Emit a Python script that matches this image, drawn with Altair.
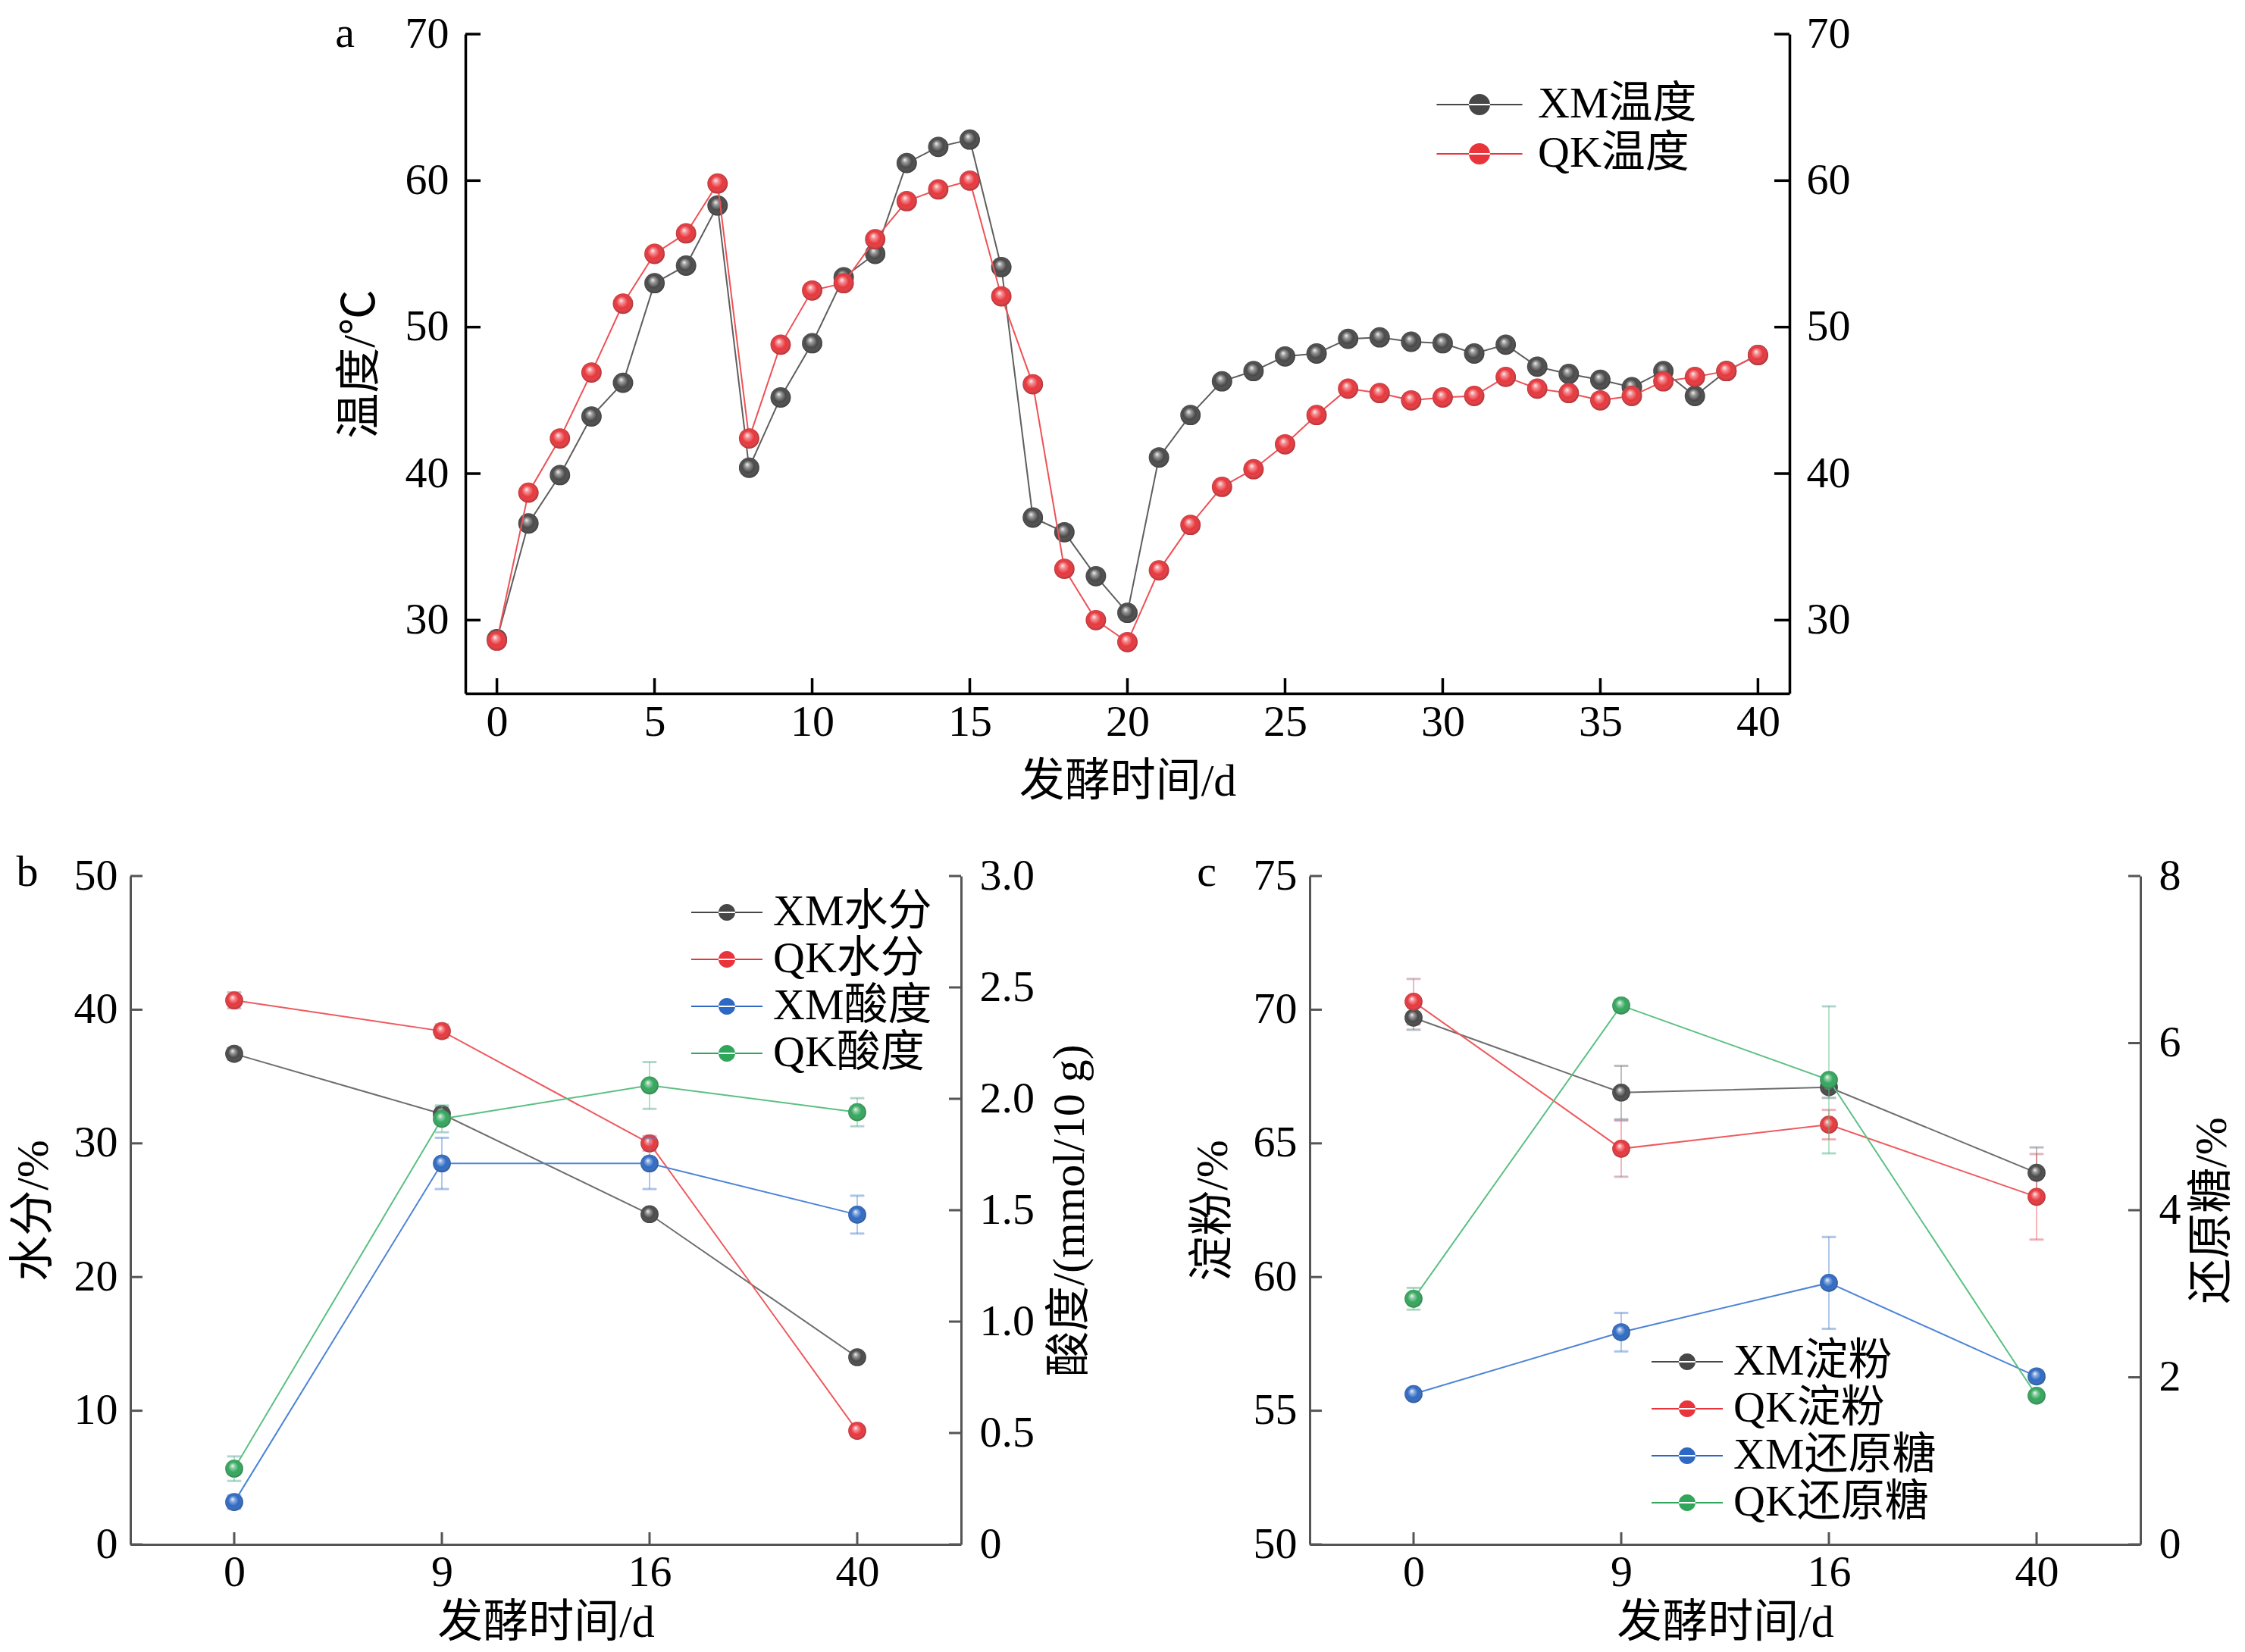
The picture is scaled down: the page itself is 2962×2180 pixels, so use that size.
import altair as alt
import pandas as pd

SERIF = "Liberation Serif, Noto Sans CJK SC, serif"

# ---------------- panel a data ----------------
days_a = list(range(41))
xm_temp = [28.7, 36.6, 39.9, 43.9, 46.2, 53.0, 54.2, 58.3, 40.4, 45.2, 48.9, 53.4, 55.0, 61.2, 62.3, 62.8,
           54.1, 37.0, 36.0, 33.0, 30.5, 41.1, 44.0, 46.3, 47.0, 48.0, 48.2, 49.2, 49.3, 49.0, 48.9, 48.2,
           48.8, 47.3, 46.8, 46.4, 45.9, 47.0, 45.3, 47.0, 48.1]
qk_temp = [28.6, 38.7, 42.4, 46.9, 51.6, 55.0, 56.4, 59.8, 42.4, 48.8, 52.5, 53.0, 56.0, 58.6, 59.4, 60.0,
           52.1, 46.1, 33.5, 30.0, 28.5, 33.4, 36.5, 39.1, 40.3, 42.0, 44.0, 45.8, 45.5, 45.0, 45.2, 45.3,
           46.6, 45.8, 45.5, 45.0, 45.3, 46.3, 46.6, 47.0, 48.1]
a_series = ["XM温度", "QK温度"]
a_point_colors = ["#474747", "#e8343a"]
a_line_colors = ["#5e5e5e", "#ee5156"]
a_xticks = [0, 5, 10, 15, 20, 25, 30, 35, 40]
a_yticks = [30, 40, 50, 60, 70]

# ---------------- panel b data ----------------
bc_days = [0, 9, 16, 40]
xm_water = [36.7, 32.2, 24.7, 14.0]
xm_water_err = [0.45, 0.5, 0.4, 0.35]
qk_water = [40.7, 38.4, 30.0, 8.5]
qk_water_err = [0.6, 0.5, 0.55, 0.4]
xm_acid = [0.19, 1.71, 1.71, 1.48]
xm_acid_err = [0.03, 0.115, 0.115, 0.085]
qk_acid = [0.34, 1.91, 2.06, 1.94]
qk_acid_err = [0.055, 0.06, 0.105, 0.063]
b_series = ["XM水分", "QK水分", "XM酸度", "QK酸度"]
b_left_ticks = [0, 10, 20, 30, 40, 50]
b_right_ticks = [0, 0.5, 1.0, 1.5, 2.0, 2.5, 3.0]

# ---------------- panel c data ----------------
xm_starch = [69.7, 66.9, 67.1, 63.9]
xm_starch_err = [0.45, 1.0, 0.4, 0.95]
qk_starch = [70.3, 64.8, 65.7, 63.0]
qk_starch_err = [0.85, 1.05, 0.55, 1.6]
xm_sugar = [1.80, 2.54, 3.13, 2.01]
xm_sugar_err = [0.05, 0.23, 0.55, 0.07]
qk_sugar = [2.94, 6.45, 5.56, 1.78]
qk_sugar_err = [0.13, 0.07, 0.88, 0.05]
c_series = ["XM淀粉", "QK淀粉", "XM还原糖", "QK还原糖"]
c_left_ticks = [50, 55, 60, 65, 70, 75]
c_right_ticks = [0, 2, 4, 6, 8]

bc_point_colors = ["#474747", "#e8343a", "#2c68c4", "#30a65a"]
bc_line_colors = ["#6e6e6e", "#ee5a5f", "#4d84d6", "#5cc083"]

GLOSS = {
    "gradient": "radial", "x1": 0.4, "y1": 0.33, "r1": 0.0, "x2": 0.5, "y2": 0.5, "r2": 0.55,
    "stops": [
        {"offset": 0.0, "color": "rgba(255,255,255,0.95)"},
        {"offset": 0.22, "color": "rgba(255,255,255,0.45)"},
        {"offset": 0.55, "color": "rgba(255,255,255,0.0)"},
        {"offset": 1.0, "color": "rgba(0,0,0,0.35)"},
    ],
}

PATH_A = "M-4.04,-0.08H4.04V0.08H-4.04Z M-1,0A1,1,0,1,0,1,0A1,1,0,1,0,-1,0Z"
PATH_BC = "M-4.27,-0.09H4.27V0.09H-4.27Z M-1,0A1,1,0,1,0,1,0A1,1,0,1,0,-1,0Z"

FS = 58


def legend(x, y, path, d, label_offset, row_pad):
    return alt.Legend(title=None, orient="none", legendX=x, legendY=y, symbolType=path,
                      symbolSize=d * d, symbolStrokeWidth=0, symbolOpacity=1, labelFont=SERIF,
                      labelFontSize=FS, labelColor="black", labelOffset=label_offset,
                      rowPadding=row_pad, padding=0, labelLimit=0)


def letter(t, dx, dy):
    return alt.Chart(pd.DataFrame({"t": [t]})).mark_text(
        font=SERIF, fontSize=FS, align="center", baseline="middle", color="black"
    ).encode(text="t:N", x=alt.value(dx), y=alt.value(dy))


# ================= panel a =================
W_A, H_A = 1747, 870
ysc_a = alt.Scale(domain=[25, 70], nice=False, zero=False)
x_a = alt.X("day:Q", scale=alt.Scale(domain=[-1, 41], nice=False, zero=False),
            axis=alt.Axis(values=a_xticks, title="发酵时间/d", labelPadding=9, titlePadding=20,
                          domainColor="black", domainWidth=3.5))
y_a_left = alt.Y("value:Q", scale=ysc_a,
                 axis=alt.Axis(values=a_yticks, title="温度/℃", orient="left", labelPadding=22,
                               titlePadding=28, domainColor="black", domainWidth=3.5))
y_a_right = alt.Y("value:Q", scale=ysc_a,
                  axis=alt.Axis(values=a_yticks, title=None, orient="right", labelPadding=22,
                                domainColor="black", domainWidth=3.5))
color_a = alt.Color("sa:N", scale=alt.Scale(domain=a_series, range=a_point_colors),
                    legend=legend(1309, 64, PATH_A, 28, 48, 7))

df_xm_t = pd.DataFrame({"day": days_a, "value": xm_temp, "sa": a_series[0]})
df_qk_t = pd.DataFrame({"day": days_a, "value": qk_temp, "sa": a_series[1]})
df_ax = pd.DataFrame({"day": a_xticks})
df_ay = pd.DataFrame({"value": a_yticks})
PS_A = 720


def series_a(df, y, line_color):
    line = alt.Chart(df).mark_line(color=line_color, strokeWidth=2).encode(x=x_a, y=y)
    pts = alt.Chart(df).mark_point(filled=True, size=PS_A, opacity=1, strokeWidth=0).encode(
        x=x_a, y=y, color=color_a)
    gloss = alt.Chart(df).mark_point(filled=True, size=PS_A, opacity=1, strokeWidth=0, fill=GLOSS).encode(
        x=x_a, y=y)
    return [line, pts, gloss]


ticks_a_bottom = alt.Chart(df_ax).mark_rule(color="black", strokeWidth=3.5).encode(
    x=x_a, y=alt.value(H_A), y2=alt.value(H_A - 20))
ticks_a_left = alt.Chart(df_ay).mark_rule(color="black", strokeWidth=3.5).encode(
    y=y_a_left, x=alt.value(0), x2=alt.value(20))
ticks_a_right = alt.Chart(df_ay).mark_rule(color="black", strokeWidth=3.5).encode(
    y=y_a_right, x=alt.value(W_A), x2=alt.value(W_A - 20))

left_a = alt.layer(ticks_a_bottom, ticks_a_left, *series_a(df_xm_t, y_a_left, a_line_colors[0]),
                   letter("a", -159, 0))
right_a = alt.layer(ticks_a_right, *series_a(df_qk_t, y_a_right, a_line_colors[1]))
chart_a = alt.layer(left_a, right_a).resolve_scale(y="independent").properties(width=W_A, height=H_A)


# ================= panels b and c =================
W_B, H_B = 1096, 882
AX_GRAY = "#555555"
PS_B = 560
x_bc = alt.X("day:O", scale=alt.Scale(type="point", padding=0.5),
             axis=alt.Axis(labelAngle=0, title="发酵时间/d", labelPadding=8, titlePadding=8,
                           domainColor=AX_GRAY, domainWidth=3))


def long_df(names, vals, errs):
    rows = []
    for n, v, e in zip(names, vals, errs):
        for d, vv, ee in zip(bc_days, v, e):
            rows.append({"day": d, "series": n, "ln": "line " + n, "value": vv,
                         "lo": vv - ee, "hi": vv + ee})
    return pd.DataFrame(rows)


def group(df, ysc, axis, ticks, series_all, orient, legend_def):
    y = alt.Y("value:Q", scale=ysc, axis=axis)
    color = alt.Color("series:N", scale=alt.Scale(domain=series_all, range=bc_point_colors),
                      legend=legend_def)
    stroke = alt.Stroke("ln:N", scale=alt.Scale(domain=["line " + s for s in series_all],
                                                range=bc_line_colors), legend=None)
    line = alt.Chart(df).mark_line(strokeWidth=2).encode(x=x_bc, y=y, stroke=stroke)
    err = alt.Chart(df).mark_rule(strokeWidth=2, opacity=0.45).encode(
        x=x_bc, y=alt.Y("lo:Q", scale=ysc, axis=axis), y2="hi:Q", stroke=stroke)
    cap_lo = alt.Chart(df).mark_tick(thickness=2, size=18, opacity=0.45).encode(
        x=x_bc, y=alt.Y("lo:Q", scale=ysc, axis=axis), stroke=stroke)
    cap_hi = alt.Chart(df).mark_tick(thickness=2, size=18, opacity=0.45).encode(
        x=x_bc, y=alt.Y("hi:Q", scale=ysc, axis=axis), stroke=stroke)
    pts = alt.Chart(df).mark_point(filled=True, size=PS_B, opacity=1, strokeWidth=0).encode(
        x=x_bc, y=y, color=color)
    gloss = alt.Chart(df).mark_point(filled=True, size=PS_B, opacity=1, strokeWidth=0, fill=GLOSS).encode(
        x=x_bc, y=y)
    tdf = pd.DataFrame({"value": ticks})
    if orient == "left":
        tk = alt.Chart(tdf).mark_rule(color=AX_GRAY, strokeWidth=3).encode(
            y=y, x=alt.value(0), x2=alt.value(16))
    else:
        tk = alt.Chart(tdf).mark_rule(color=AX_GRAY, strokeWidth=3).encode(
            y=y, x=alt.value(W_B), x2=alt.value(W_B - 16))
    return [tk, err, cap_lo, cap_hi, line, pts, gloss]


def make_panel(letter_t, left_df, right_df, series_all, ldom, lticks, ltitle, rdom, rticks, rtitle,
               rfmt, leg, rtp):
    lsc = alt.Scale(domain=ldom, nice=False, zero=False)
    rsc = alt.Scale(domain=rdom, nice=False, zero=False)
    laxis = alt.Axis(values=lticks, title=ltitle, orient="left", labelPadding=17, titlePadding=22,
                     domainColor=AX_GRAY, domainWidth=3)
    raxis = alt.Axis(values=rticks, title=rtitle, orient="right", labelPadding=24, titlePadding=rtp,
                     titleAngle=270, titleBaseline="top", domainColor=AX_GRAY, domainWidth=3,
                     labelExpr=rfmt)
    bt = alt.Chart(pd.DataFrame({"day": bc_days})).mark_rule(color=AX_GRAY, strokeWidth=3).encode(
        x=x_bc, y=alt.value(H_B), y2=alt.value(H_B - 16))
    lg = alt.layer(bt, *group(left_df, lsc, laxis, lticks, series_all, "left", leg),
                   letter(letter_t, -136, -4))
    rg = alt.layer(*group(right_df, rsc, raxis, rticks, series_all, "right", leg))
    return alt.layer(lg, rg).resolve_scale(y="independent").properties(width=W_B, height=H_B)


df_b_left = long_df(b_series[:2], [xm_water, qk_water], [xm_water_err, qk_water_err])
df_b_right = long_df(b_series[2:], [xm_acid, qk_acid], [xm_acid_err, qk_acid_err])
df_c_left = long_df(c_series[:2], [xm_starch, qk_starch], [xm_starch_err, qk_starch_err])
df_c_right = long_df(c_series[2:], [xm_sugar, qk_sugar], [xm_sugar_err, qk_sugar_err])

chart_b = make_panel("b", df_b_left, df_b_right, b_series, [0, 50], b_left_ticks, "水分/%",
                     [0, 3], b_right_ticks, "酸度/(mmol/10 g)",
                     "datum.value == 0 ? '0' : format(datum.value, '.1f')",
                     legend(758, 19, PATH_BC, 22, 32, 4), 18)
chart_c = make_panel("c", df_c_left, df_c_right, c_series, [50, 75], c_left_ticks, "淀粉/%",
                     [0, 8], c_right_ticks, "还原糖/%", "format(datum.value, 'd')",
                     legend(469, 612, PATH_BC, 22, 32, 4), 12)

spacer = alt.Chart(pd.DataFrame({"v": [0]})).mark_point(opacity=0).encode(
    x=alt.value(0), y=alt.value(0)).properties(width=270, height=10)

top_row = alt.hconcat(spacer, chart_a, spacing=0).resolve_scale(
    color="independent", stroke="independent")
bottom_row = alt.hconcat(chart_b, chart_c, spacing=128).resolve_scale(
    color="independent", stroke="independent")

chart = alt.vconcat(top_row, bottom_row, spacing=62).resolve_scale(
    color="independent", stroke="independent"
).configure(
    padding={"left": 6, "top": 8, "right": 0, "bottom": 0}
).configure_view(stroke=None).configure_axis(
    labelFont=SERIF, titleFont=SERIF, labelFontSize=FS, titleFontSize=60, labelColor="black",
    titleColor="black", titleFontWeight="normal", grid=False, ticks=False
).configure_legend(labelFont=SERIF, labelFontSize=FS)

chart.save("out.html", embed_options={"renderer": "svg", "actions": False})
